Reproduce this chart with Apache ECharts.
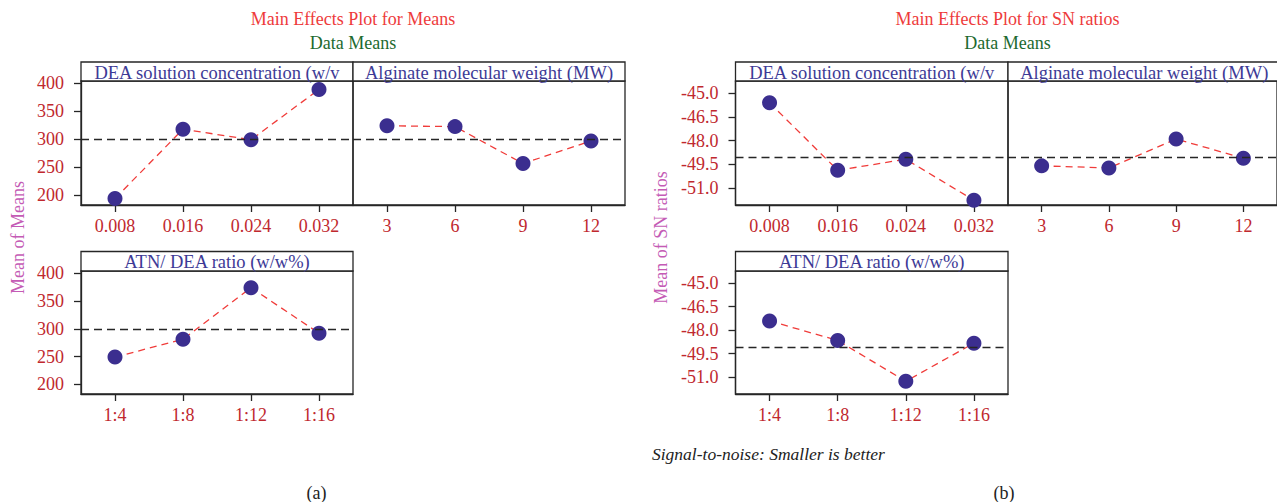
<!DOCTYPE html>
<html><head><meta charset="utf-8">
<script src="https://cdn.jsdelivr.net/npm/echarts@6/dist/echarts.min.js"></script>
<style>html,body{margin:0;padding:0;background:#fff}#c{width:1277px;height:502px}</style>
</head><body><div id="c"></div>
<script>
// ---- categories ----
const deaLevels = ['0.008', '0.016', '0.024', '0.032'];
const mwLevels = ['3', '6', '9', '12'];
const ratioLevels = ['1:4', '1:8', '1:12', '1:16'];
// ---- Main effects for means ----
const meansDEA = [194, 318, 299, 389];
const meansMW = [324, 322.5, 256.5, 297];
const meansRatio = [249, 281, 374, 292];
const meansGrand = 300;
const meansTicks = [200, 250, 300, 350, 400];
// ---- Main effects for SN ratios ----
const snDEA = [-45.6, -49.88, -49.18, -51.78];
const snMW = [-49.6, -49.73, -47.9, -49.11];
const snRatio = [-47.41, -48.66, -51.27, -48.83];
const snGrand = -49.07;
const snTicks = [-45.0, -46.5, -48.0, -49.5, -51.0];
// ---- panel titles ----
const factorNames = ['DEA solution concentration (w/v', 'Alginate molecular weight (MW)', 'ATN/ DEA ratio (w/w%)'];

const FONT = "'Liberation Serif', 'DejaVu Serif', serif";
const TICKCOL = '#c0282e';
const HEADCOL = '#3d3a96';
const MARK = '#3b2e8f';
const LINE = '#f03c3a';
const BORDER = '#262626';

const grids = [
  {left: 81, top: 81, width: 272, height: 124},
  {left: 353, top: 81, width: 272, height: 124},
  {left: 81, top: 271, width: 272, height: 123},
  {left: 735.5, top: 81, width: 272.5, height: 124},
  {left: 1008, top: 81, width: 272.5, height: 124},
  {left: 735.5, top: 271, width: 272.5, height: 123}
];
const panelCats = [deaLevels, mwLevels, ratioLevels, deaLevels, mwLevels, ratioLevels];
const panelData = [meansDEA, meansMW, meansRatio, snDEA, snMW, snRatio];
const panelIsSN = [false, false, false, true, true, true];
const panelShowY = [true, false, true, true, false, true];
const panelHeader = [factorNames[0], factorNames[1], factorNames[2], factorNames[0], factorNames[1], factorNames[2]];

const grid = grids.map(g => Object.assign({show: true, borderColor: BORDER, borderWidth: 1.3, backgroundColor: 'transparent'}, g));

const xAxis = panelCats.map((cats, i) => ({
  type: 'category', gridIndex: i, data: cats, boundaryGap: true,
  axisLine: {show: true, lineStyle: {color: BORDER, width: 1.3}},
  axisTick: {show: true, alignWithLabel: true, length: 7, lineStyle: {color: BORDER, width: 1.3}},
  axisLabel: {color: TICKCOL, fontFamily: FONT, fontSize: 18, margin: 12},
  splitLine: {show: false}
}));

const yAxis = panelIsSN.map((sn, i) => ({
  type: 'value', gridIndex: i,
  min: sn ? -52.08 : 182.5, max: sn ? -44.22 : 404,
  axisLine: {show: panelShowY[i], lineStyle: {color: BORDER, width: 1.3}},
  axisTick: {show: panelShowY[i], length: 7, customValues: sn ? snTicks : meansTicks, lineStyle: {color: BORDER, width: 1.3}},
  axisLabel: {show: panelShowY[i], customValues: sn ? snTicks : meansTicks, color: TICKCOL, fontFamily: FONT, fontSize: 18, margin: 17,
    formatter: v => sn ? v.toFixed(1) : String(v)},
  splitLine: {show: false}
}));

const series = panelData.map((d, i) => ({
  type: 'line', xAxisIndex: i, yAxisIndex: i, data: d,
  symbol: 'circle', symbolSize: 15,
  itemStyle: {color: MARK},
  lineStyle: {color: LINE, width: 1.3, type: [7, 5]},
  silent: true, animation: false,
  markLine: {
    silent: true, symbol: 'none', label: {show: false},
    lineStyle: {color: BORDER, width: 1.3, type: [8, 5]},
    data: [{yAxis: panelIsSN[i] ? snGrand : meansGrand}]
  },
  z: 3
}));

const graphic = [];
grids.forEach((g, i) => {
  const hTop = g.top === 81 ? 62 : 251.5;
  graphic.push({type: 'rect', silent: true, shape: {x: g.left, y: hTop, width: g.width, height: g.top - hTop},
    style: {fill: '#fff', stroke: BORDER, lineWidth: 1.3}});
  graphic.push({type: 'text', silent: true, x: g.left + g.width / 2, y: (hTop + g.top) / 2 + 1,
    style: {text: panelHeader[i], font: '18.5px ' + FONT, fill: HEADCOL, align: 'center', verticalAlign: 'middle'}});
});
const texts = [
  {t: 'Main Effects Plot for Means', x: 353, y: 19, c: '#ee3b3b', s: 18},
  {t: 'Data Means', x: 353, y: 43, c: '#1d6a2f', s: 18},
  {t: 'Main Effects Plot for SN ratios', x: 1007.5, y: 19, c: '#ee3b3b', s: 18},
  {t: 'Data Means', x: 1007.5, y: 43, c: '#1d6a2f', s: 18},
  {t: '(a)', x: 316.5, y: 493, c: '#222', s: 18},
  {t: '(b)', x: 1004, y: 493, c: '#222', s: 18}
];
texts.forEach(o => graphic.push({type: 'text', silent: true, x: o.x, y: o.y,
  style: {text: o.t, font: o.s + 'px ' + FONT, fill: o.c, align: 'center', verticalAlign: 'middle'}}));
graphic.push({type: 'text', silent: true, x: 18, y: 237.5, rotation: Math.PI / 2,
  style: {text: 'Mean of Means', font: '18px ' + FONT, fill: '#c45bb5', align: 'center', verticalAlign: 'middle'}});
graphic.push({type: 'text', silent: true, x: 661, y: 237.5, rotation: Math.PI / 2,
  style: {text: 'Mean of SN ratios', font: '18px ' + FONT, fill: '#c45bb5', align: 'center', verticalAlign: 'middle'}});
graphic.push({type: 'text', silent: true, x: 652, y: 454,
  style: {text: 'Signal-to-noise: Smaller is better', font: 'italic 17.5px ' + FONT, fill: '#222', align: 'left', verticalAlign: 'middle'}});

const chart = echarts.init(document.getElementById('c'), null, {renderer: 'svg'});
chart.setOption({animation: false, grid, xAxis, yAxis, series, graphic});
</script></body></html>
